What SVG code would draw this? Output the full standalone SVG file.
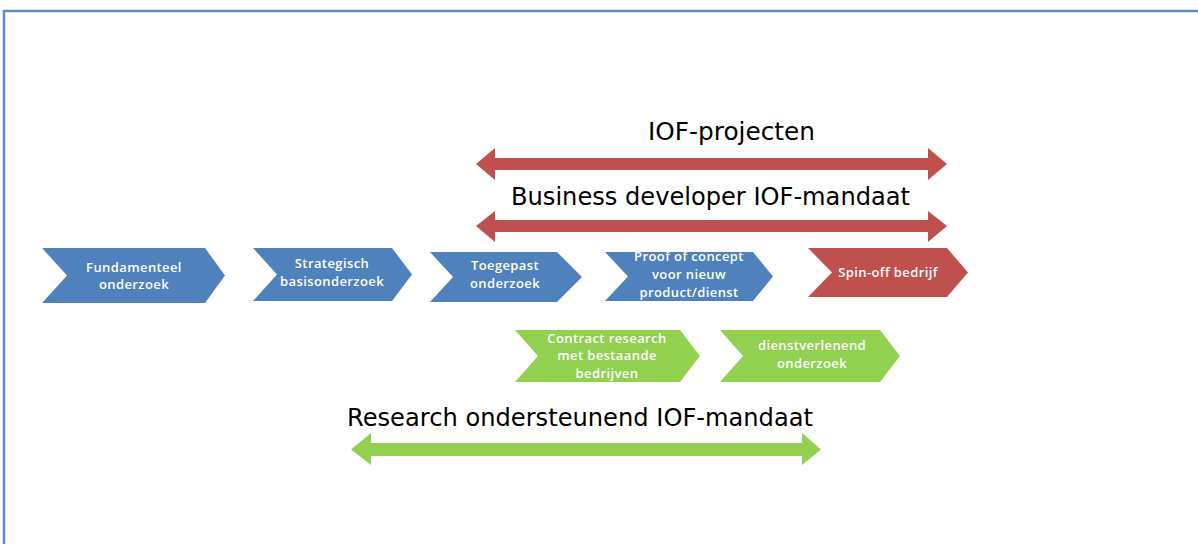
<svg xmlns="http://www.w3.org/2000/svg" width="1198" height="544" viewBox="0 0 1198 544">
<style>
.lbl{font-family:"DejaVu Sans","Liberation Sans",sans-serif;font-size:24px;fill:#000;text-anchor:middle}
.ct{font-family:"Open Sans","Liberation Sans",sans-serif;font-size:13px;font-weight:600;fill:#fff;text-anchor:middle;letter-spacing:0.4px}
.blue{fill:#4F81BD}
.red{fill:#C0504D}
.green{fill:#92D050}
</style>
<rect x="0" y="0" width="1198" height="544" fill="#fff"/>
<path d="M4,544 V11 H1198" fill="none" stroke="#5B8BC9" stroke-width="2.5"/>
<g id="connectors">
  <path class="red" d="M476,164 L495,148 L495,158 L928,158 L928,148 L947,164 L928,180 L928,170 L495,170 L495,180 Z"/>
  <path class="red" d="M476,226 L495,211 L495,220 L928,220 L928,211 L947,226 L928,242 L928,232 L495,232 L495,242 Z"/>
  <path class="green" d="M351,449.5 L371,433 L371,443 L802,443 L802,433 L821,449.5 L802,465 L802,456 L371,456 L371,465 Z"/>
</g>
<g id="label-iof-projecten"><text class="lbl" x="731.5" y="140" textLength="167" lengthAdjust="spacingAndGlyphs">IOF-projecten</text></g>
<g id="label-business-developer"><text class="lbl" x="710.5" y="205" textLength="399" lengthAdjust="spacingAndGlyphs">Business developer IOF-mandaat</text></g>
<g id="label-research-ondersteunend"><text class="lbl" x="580" y="426" textLength="466" lengthAdjust="spacingAndGlyphs">Research ondersteunend IOF-mandaat</text></g>
<g id="fundamenteel">
  <path class="blue" d="M42,248 L205,248 L225,275.5 L205,303 L42,303 L67,275.5 Z"/>
  <text class="ct" x="134" y="272">Fundamenteel</text>
  <text class="ct" x="134" y="289">onderzoek</text>
</g>
<g id="strategisch">
  <path class="blue" d="M253,248 L392,248 L412,274.5 L392,301 L253,301 L277,274.5 Z"/>
  <text class="ct" x="332" y="268">Strategisch</text>
  <text class="ct" x="332" y="286">basisonderzoek</text>
</g>
<g id="toegepast">
  <path class="blue" d="M430,252 L557,252 L582,277 L557,302 L430,302 L453,277 Z"/>
  <text class="ct" x="505" y="270">Toegepast</text>
  <text class="ct" x="505" y="288">onderzoek</text>
</g>
<g id="proof-of-concept">
  <path class="blue" d="M605,252 L753,252 L773,276.5 L753,301 L605,301 L628,276.5 Z"/>
  <text class="ct" x="689" y="261">Proof of concept</text>
  <text class="ct" x="689" y="279">voor nieuw</text>
  <text class="ct" x="689" y="297">product/dienst</text>
</g>
<g id="spin-off">
  <path class="red" d="M808,248 L947,248 L968,272.5 L947,297 L808,297 L832,272.5 Z"/>
  <text class="ct" x="888" y="277">Spin-off bedrijf</text>
</g>
<g id="contract-research">
  <path class="green" d="M515,330 L680,330 L700,356 L680,382 L515,382 L538,356 Z"/>
  <text class="ct" x="607" y="343">Contract research</text>
  <text class="ct" x="607" y="360">met bestaande</text>
  <text class="ct" x="607" y="378">bedrijven</text>
</g>
<g id="dienstverlenend">
  <path class="green" d="M720,330 L880,330 L900,356 L880,382 L720,382 L743,356 Z"/>
  <text class="ct" x="812" y="350">dienstverlenend</text>
  <text class="ct" x="812" y="368">onderzoek</text>
</g>
</svg>
